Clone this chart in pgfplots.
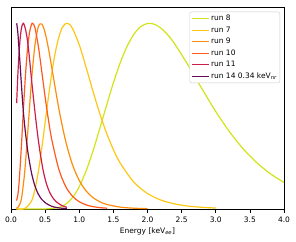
\documentclass[border=0pt]{standalone}
\usepackage{fontspec}
\setmainfont{DejaVu Sans}
\usepackage{pgfplots}
\pgfplotsset{compat=1.18}
\definecolor{cA}{RGB}{210,228,25}
\definecolor{cB}{RGB}{252,200,20}
\definecolor{cC}{RGB}{255,140,10}
\definecolor{cD}{RGB}{255,90,30}
\definecolor{cE}{RGB}{205,30,75}
\definecolor{cF}{RGB}{105,10,85}
\begin{document}
\begin{tikzpicture}
\begin{axis}[
  scale only axis, width=273pt, height=201.3pt,
  xmin=0, xmax=4, ymin=0, ymax=1.084,
  xtick={0,0.5,1,1.5,2,2.5,3,3.5,4},
  xticklabels={0.0,0.5,1.0,1.5,2.0,2.5,3.0,3.5,4.0},
  ytick=\empty,
  xtick pos=left,
  tick align=outside,
  major tick length=3.5pt,
  tick style={black, line width=0.6pt},
  axis line style={black, line width=0.6pt},
  every tick label/.append style={font=\fontsize{7.5}{9}\selectfont},
  xticklabel style={yshift=-1pt},
  xlabel={Energy [keV\textsubscript{\itshape ee}]},
  label style={font=\fontsize{7.5}{9}\selectfont},
  xlabel style={yshift=2pt},
  legend cell align=left,
  legend image code/.code={\draw[#1, line width=1.3pt] (0pt,0pt) -- (17pt,0pt);},
  legend style={at={(1,1)}, anchor=north east, xshift=-4pt, yshift=-4pt,
    draw=black!20, rounded corners=2pt, font=\fontsize{7.5}{9}\selectfont,
    row sep=2pt, inner sep=2pt,
    nodes={inner sep=1pt, text height=6pt, text depth=1.5pt}},
  every axis plot/.append style={line width=1.2pt, smooth, no markers},
]
\addplot[cA] coordinates {
(0.08,0) (0.5,0.0003) (0.7,0.0083) (0.8,0.0257) (0.9,0.0611) (1.0,0.1203)
(1.1,0.2048) (1.2,0.3111) (1.3,0.4321) (1.4,0.5582) (1.5,0.6794) (1.6,0.7872)
(1.7,0.8755) (1.8,0.9408) (1.9,0.9817) (2.0,0.9991) (2.1,0.9952) (2.2,0.9730)
(2.3,0.9362) (2.4,0.8882) (2.6,0.7720) (2.8,0.6460) (3.0,0.5249) (3.2,0.4167)
(3.4,0.3250) (3.6,0.2499) (3.8,0.1899) (4.0,0.1432)};
\addlegendentry{run 8}
\addplot[cB] coordinates {
(0.08,0) (0.2,0.002) (0.3,0.0424) (0.35,0.1038) (0.4,0.1999) (0.45,0.3247)
(0.5,0.4656) (0.55,0.6076) (0.6,0.7373) (0.65,0.8448) (0.7,0.9248) (0.75,0.9754)
(0.8,0.9981) (0.85,0.996) (0.9,0.9733) (1.0,0.8842) (1.1,0.7636) (1.2,0.6356)
(1.3,0.5149) (1.4,0.4088) (1.5,0.3198) (1.6,0.2475) (1.8,0.1448) (2.0,0.0834)
(2.2,0.0476) (2.4,0.0272) (2.6,0.0156) (2.8,0.0090) (3.0,0.0052)};
\addlegendentry{run 7}
\addplot[cC] coordinates {
(0.08,0.004) (0.1,0.008) (0.15,0.05) (0.2,0.1956) (0.25,0.4364) (0.3,0.6885)
(0.35,0.8801) (0.4,0.9811) (0.45,0.9969) (0.5,0.9489) (0.55,0.8618) (0.6,0.7562)
(0.7,0.5425) (0.8,0.3666) (0.9,0.2397) (1.0,0.1537) (1.1,0.0977) (1.2,0.0619)
(1.3,0.0392) (1.4,0.0249) (1.6,0.0102) (1.8,0.0043) (2.0,0.0019)};
\addlegendentry{run 9}
\addplot[cD] coordinates {
(0.08,0.045) (0.1,0.075) (0.12,0.1497) (0.15,0.3233) (0.18,0.5232) (0.21,0.7087)
(0.24,0.8535) (0.27,0.9479) (0.30,0.9932) (0.318,1.0) (0.35,0.9775) (0.4,0.8782)
(0.45,0.7426) (0.5,0.6031) (0.55,0.4765) (0.6,0.3696) (0.7,0.2150) (0.8,0.1222)
(0.9,0.0691) (1.0,0.0391) (1.1,0.0223) (1.2,0.0128) (1.3,0.0075) (1.41,0.0042)};
\addlegendentry{run 10}
\addplot[cE] coordinates {
(0.083,0.57) (0.10,0.72) (0.12,0.85) (0.14,0.94) (0.16,0.985) (0.18,1.0)
(0.20,0.985) (0.23,0.935) (0.26,0.85) (0.30,0.70) (0.34,0.56) (0.38,0.43)
(0.42,0.32) (0.47,0.21) (0.52,0.135) (0.57,0.087) (0.62,0.057) (0.67,0.037)
(0.72,0.024) (0.77,0.015) (0.82,0.009)};
\addlegendentry{run 11}
\addplot[cF] coordinates {
(0.083,1.0) (0.10,0.95) (0.12,0.85) (0.14,0.74) (0.16,0.63) (0.18,0.53)
(0.20,0.45) (0.225,0.37) (0.25,0.30) (0.30,0.195) (0.35,0.125) (0.40,0.08)
(0.45,0.052) (0.50,0.034) (0.60,0.014) (0.70,0.006) (0.82,0.002)};
\addlegendentry{run 14 0.34 keV\textsubscript{\itshape nr}}
\coordinate (sw) at (rel axis cs:0,0);
\coordinate (ne) at (rel axis cs:1,1);
\end{axis}
\pgfresetboundingbox
\path[use as bounding box] ([shift={(-11pt,-32pt)}]sw) rectangle ([shift={(12pt,7.7pt)}]ne);
\end{tikzpicture}
\end{document}
